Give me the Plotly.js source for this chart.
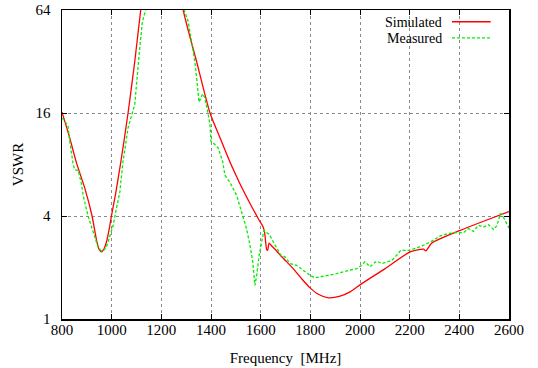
<!DOCTYPE html>
<html>
<head>
<meta charset="utf-8">
<script src="https://cdn.plot.ly/plotly-3.0.1.min.js"></script>
<style>html,body{margin:0;padding:0;background:#fff;}#chart{width:538px;height:368px;}</style>
</head>
<body>
<div id="chart"></div>
<script>
// Simulated VSWR (values above 64 run off the top of the plot)
const simFreq = [800, 830, 858, 892, 921, 939, 949, 959, 968, 979, 990, 999, 1016, 1037, 1066, 1093, 1117, 1140, 1170, 1200, 1230, 1260, 1288, 1342, 1396, 1437, 1479, 1516, 1555, 1594, 1610, 1616, 1624, 1628, 1634, 1642, 1665, 1685, 1731, 1765, 1799, 1832, 1873, 1920, 1960, 2007, 2101, 2202, 2256, 2265, 2289, 2404, 2500, 2600];
const simVswr = [16.2, 11.6, 8.2, 5.8, 4.0, 2.89, 2.56, 2.47, 2.55, 2.82, 3.35, 4.0, 5.41, 8.3, 16, 32, 64, 110, 180, 220, 200, 120, 64, 32, 16, 11.4, 8.1, 6.2, 4.8, 3.78, 3.45, 3.2, 2.55, 2.52, 2.78, 2.7, 2.49, 2.31, 1.97, 1.72, 1.52, 1.395, 1.33, 1.36, 1.44, 1.61, 1.97, 2.47, 2.56, 2.5, 2.78, 3.30, 3.74, 4.25];

// Measured VSWR
const measFreq = [800, 818, 824, 831, 838, 844, 851, 865, 878, 885, 905, 925, 945, 959, 968, 979, 992, 1006, 1019, 1033, 1045, 1066, 1093, 1103, 1113, 1124, 1137, 1150, 1200, 1260, 1292, 1308, 1322, 1335, 1342, 1348, 1352, 1366, 1375, 1389, 1396, 1400, 1409, 1429, 1447, 1456, 1476, 1503, 1523, 1543, 1557, 1568, 1577, 1584, 1594, 1604, 1613, 1621, 1635, 1651, 1665, 1681, 1698, 1718, 1745, 1772, 1799, 1819, 1853, 1906, 1960, 1987, 2007, 2020, 2040, 2067, 2088, 2128, 2148, 2164, 2195, 2229, 2256, 2289, 2323, 2350, 2390, 2417, 2437, 2457, 2477, 2498, 2518, 2538, 2552, 2565, 2572, 2585, 2600];
const measVswr = [15.0, 14.0, 13.5, 11.0, 9.3, 8.2, 7.45, 7.4, 6.2, 5.3, 4.0, 3.23, 2.64, 2.49, 2.52, 2.64, 3.02, 3.53, 4.42, 5.53, 8.2, 13.1, 17.95, 26.9, 38.5, 55, 64, 90, 150, 120, 64, 55, 42, 32, 25.7, 21.5, 18.5, 20.7, 19.7, 15.7, 13.5, 10.9, 10.7, 10.0, 8.3, 6.93, 6.3, 5.29, 4.23, 3.38, 2.70, 2.16, 1.57, 1.80, 2.36, 2.89, 3.30, 3.23, 3.11, 2.82, 2.58, 2.36, 2.31, 2.11, 2.06, 1.93, 1.80, 1.74, 1.78, 1.84, 1.93, 1.97, 2.06, 2.16, 2.02, 2.18, 2.11, 2.2, 2.36, 2.52, 2.52, 2.6, 2.7, 2.85, 3.06, 3.15, 3.2, 3.2, 3.38, 3.25, 3.53, 3.45, 3.56, 3.33, 3.53, 4.13, 4.08, 3.78, 3.4];

const xTicks = [800, 1000, 1200, 1400, 1600, 1800, 2000, 2200, 2400, 2600];
const yTicks = [1, 4, 16, 64];
const yTickText = ['1', '4', '16', '64'];
const seriesNames = ['Simulated', 'Measured'];
const seriesColors = ['#ff0000', '#00ee00'];

const traces = [
  {x: simFreq, y: simVswr, type: 'scatter', mode: 'lines', name: seriesNames[0],
   line: {color: seriesColors[0], width: 1.3, shape: 'spline', smoothing: 0.6}, showlegend: false},
  {x: measFreq, y: measVswr, type: 'scatter', mode: 'lines', name: seriesNames[1],
   line: {color: seriesColors[1], width: 1.3, dash: '3px,2px'}, showlegend: false}
];

const axisCommon = {
  showline: true, linecolor: '#000', linewidth: 1.5, mirror: 'ticks',
  ticks: 'inside', ticklen: 5, tickwidth: 1, tickcolor: '#000',
  showgrid: true, gridcolor: '#8a8a8a', gridwidth: 1, griddash: 'dot',
  zeroline: false
};

const legY = [0.962, 0.910];
const annotations = seriesNames.map((n, i) => ({
  xref: 'paper', yref: 'paper', x: 0.853, y: legY[i], xanchor: 'right', yanchor: 'middle',
  text: n, showarrow: false, font: {size: 14}, borderpad: 0, height: 14
}));
const shapes = seriesNames.map((n, i) => ({
  type: 'line', xref: 'paper', yref: 'paper', x0: 0.8725, x1: 0.959, y0: legY[i], y1: legY[i],
  line: {color: seriesColors[i], width: 1.3, dash: i === 1 ? '3px,2px' : 'solid'}
}));

const layout = {
  width: 538, height: 368,
  margin: {l: 62, r: 29, t: 10, b: 49},
  paper_bgcolor: '#fff', plot_bgcolor: '#fff',
  font: {family: 'Liberation Serif, Times New Roman, serif', size: 15, color: '#000'},
  showlegend: false,
  xaxis: Object.assign({}, axisCommon, {
    range: [800, 2600], tickmode: 'array', tickvals: xTicks,
    ticklabelstandoff: -4,
    title: {text: 'Frequency\u00a0 [MHz]', standoff: 16, font: {size: 15}}
  }),
  yaxis: Object.assign({}, axisCommon, {
    type: 'log', range: [0, Math.log10(64)], tickmode: 'array', tickvals: yTicks, ticktext: yTickText,
    ticklabelstandoff: 7,
    title: {text: 'VSWR', standoff: 8, font: {size: 15}}
  }),
  annotations: annotations,
  shapes: shapes
};

Plotly.newPlot('chart', traces, layout, {staticPlot: true, displayModeBar: false});
</script>
</body>
</html>
